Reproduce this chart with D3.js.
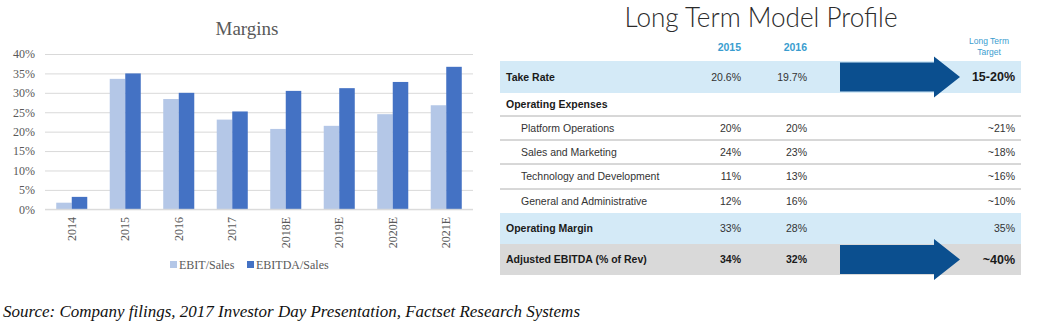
<!DOCTYPE html>
<html>
<head>
<meta charset="utf-8">
<script src="https://cdn.jsdelivr.net/npm/d3@7"></script>
<style>
  body { margin: 0; background: #fff; }
  svg { display: block; }
</style>
</head>
<body>
<svg id="chart" width="1046" height="330"></svg>
<script>
// margins chart data
var years = ["2014", "2015", "2016", "2017", "2018E", "2019E", "2020E", "2021E"];
var seriesNames = ["EBIT/Sales", "EBITDA/Sales"];
var ebitSales = [0.017, 0.336, 0.284, 0.231, 0.207, 0.215, 0.245, 0.268];
var ebitdaSales = [0.032, 0.350, 0.300, 0.252, 0.305, 0.312, 0.328, 0.367];
var yTicks = [0, 0.05, 0.10, 0.15, 0.20, 0.25, 0.30, 0.35, 0.40];

// long term model table data
var colHeads = ["2015", "2016"];
var rowLabels = ["Take Rate", "Operating Expenses", "Platform Operations", "Sales and Marketing",
  "Technology and Development", "General and Administrative", "Operating Margin", "Adjusted EBITDA (% of Rev)"];
var rowKind = ["take", "section", "item", "item", "item", "item", "margin", "ebitda"];
var val2015 = ["20.6%", "", "20%", "24%", "11%", "12%", "33%", "34%"];
var val2016 = ["19.7%", "", "20%", "23%", "13%", "16%", "28%", "32%"];
var target = ["15-20%", "", "~21%", "~18%", "~16%", "~10%", "35%", "~40%"];

var svg = d3.select("#chart");
var serif = "'Liberation Serif', 'Times New Roman', serif";
var sans = "'Liberation Sans', Arial, sans-serif";

// ---------- left: Margins bar chart ----------
var x0 = d3.scaleBand().domain(years).range([45, 473]).paddingInner(0.42).paddingOuter(0.21);
var x1 = d3.scaleBand().domain(seriesNames).range([0, x0.bandwidth()]);
var y = d3.scaleLinear().domain([0, 0.4]).range([209.3, 54]);
var colors = d3.scaleOrdinal().domain(seriesNames).range(["#b4c7e7", "#4472c4"]);

svg.append("text").attr("x", 247).attr("y", 35).attr("text-anchor", "middle")
  .attr("font-family", serif).attr("font-size", 19).attr("fill", "#595959").text("Margins");

var yAxis = svg.append("g").attr("transform", "translate(45,0)")
  .call(d3.axisLeft(y).tickValues(yTicks).tickSize(-428).tickFormat(d3.format(".0%")));
yAxis.select(".domain").remove();
yAxis.selectAll(".tick line").attr("stroke", "#d9d9d9");
yAxis.selectAll(".tick text").attr("x", -10).attr("font-family", serif)
  .attr("font-size", 12).attr("fill", "#595959");

var table = years.map(function(yr, i){
  return {year: yr, values: [ebitSales[i], ebitdaSales[i]]};
});

svg.append("g").selectAll("g")
  .data(table)
  .enter()
  .append("g")
  .attr("transform", function(d){ return "translate(" + x0(d.year) + ",0)"; })
  .selectAll("rect")
  .data(function(d){ return d.values.map(function(v, j){ return {name: seriesNames[j], v: v}; }); })
  .enter()
  .append("rect")
  .attr("x", function(d){ return x1(d.name); })
  .attr("width", x1.bandwidth())
  .attr("y", function(d){ return y(d.v); })
  .attr("height", function(d){ return y(0) - y(d.v); })
  .attr("fill", function(d){ return colors(d.name); });

svg.append("line").attr("x1", 45).attr("x2", 473).attr("y1", y(0)).attr("y2", y(0))
  .attr("stroke", "#d9d9d9");

svg.append("g").selectAll("text")
  .data(years)
  .enter()
  .append("text")
  .attr("transform", function(d){
    return "translate(" + (x0(d) + x0.bandwidth() / 2) + ",217) rotate(-90)";
  })
  .attr("dy", "0.35em")
  .attr("text-anchor", "end")
  .attr("font-family", serif).attr("font-size", 12).attr("fill", "#595959")
  .text(function(d){ return d; });

// legend
var legendX = [170, 247];
var legend = svg.append("g").selectAll("g")
  .data(seriesNames)
  .enter()
  .append("g")
  .attr("transform", function(d, i){ return "translate(" + legendX[i] + ",261)"; });
legend.append("rect").attr("width", 7).attr("height", 7).attr("fill", function(d){ return colors(d); });
legend.append("text").attr("x", 9).attr("y", 8).attr("font-family", serif).attr("font-size", 12)
  .attr("fill", "#595959").text(function(d){ return d; });

// source line
svg.append("text").attr("x", 3).attr("y", 317).attr("font-family", serif)
  .attr("font-style", "italic").attr("font-size", 16.5).attr("fill", "#111")
  .attr("textLength", 577).attr("lengthAdjust", "spacingAndGlyphs")
  .text("Source: Company filings, 2017 Investor Day Presentation, Factset Research Systems");

// ---------- right: Long Term Model Profile table ----------
var tLeft = 500, tRight = 1021;
var rowH = [32, 23, 24, 24, 25, 24, 31, 31];
var rowTop = [];
var acc = 61;
rowH.forEach(function(h){ rowTop.push(acc); acc += h; });
var colRight = [741, 807, 1015];
var bgFill = {take: "#d4eaf7", margin: "#d4eaf7", ebitda: "#d9d9d9"};

svg.append("text").attr("x", 761).attr("y", 27).attr("text-anchor", "middle")
  .attr("font-family", "Lato, 'Open Sans', sans-serif").attr("font-weight", 300)
  .attr("font-size", 27).attr("fill", "#2b2b2b")
  .attr("textLength", 273).attr("lengthAdjust", "spacingAndGlyphs")
  .text("Long Term Model Profile");

svg.append("g").selectAll("text")
  .data(colHeads)
  .enter()
  .append("text")
  .attr("x", function(d, i){ return colRight[i]; })
  .attr("y", 51).attr("text-anchor", "end")
  .attr("font-family", sans).attr("font-weight", "bold").attr("font-size", 10.5)
  .attr("fill", "#3a9dcf").text(function(d){ return d; });

svg.append("g").selectAll("text")
  .data(["Long Term", "Target"])
  .enter()
  .append("text")
  .attr("x", 989).attr("y", function(d, i){ return 44 + i * 11; })
  .attr("text-anchor", "middle")
  .attr("font-family", sans).attr("font-size", 8.5).attr("fill", "#3a9dcf")
  .text(function(d){ return d; });

var rows = svg.append("g").selectAll("g")
  .data(rowLabels)
  .enter()
  .append("g")
  .attr("transform", function(d, i){ return "translate(0," + rowTop[i] + ")"; });

rows.filter(function(d, i){ return bgFill[rowKind[i]]; })
  .append("rect")
  .attr("x", tLeft).attr("width", tRight - tLeft)
  .attr("height", function(d){ return rowH[rowLabels.indexOf(d)]; })
  .attr("fill", function(d){ return bgFill[rowKind[rowLabels.indexOf(d)]]; });

// separator lines under the expense rows
rows.filter(function(d, i){ return i >= 1 && i <= 4; })
  .append("line")
  .attr("x1", tLeft).attr("x2", tRight)
  .attr("y1", function(d){ return rowH[rowLabels.indexOf(d)]; })
  .attr("y2", function(d){ return rowH[rowLabels.indexOf(d)]; })
  .attr("stroke", "#b0b0b0").attr("stroke-width", 1);

rows.append("text")
  .attr("x", function(d, i){ return rowKind[i] === "item" ? 521 : 506; })
  .attr("y", function(d, i){ return rowH[i] / 2; })
  .attr("dy", "0.35em")
  .attr("font-family", sans).attr("font-size", 10.5)
  .attr("font-weight", function(d, i){ return rowKind[i] === "item" ? "normal" : "bold"; })
  .attr("fill", function(d, i){ return rowKind[i] === "item" ? "#333" : "#1a1a1a"; })
  .text(function(d){ return d; });

var cols = [val2015, val2016, target];
cols.forEach(function(col, c){
  rows.append("text")
    .attr("x", colRight[c])
    .attr("y", function(d, i){ return rowH[i] / 2; })
    .attr("dy", "0.35em")
    .attr("text-anchor", "end")
    .attr("font-family", sans)
    .attr("font-size", function(d, i){
      return (c === 2 && (rowKind[i] === "take" || rowKind[i] === "ebitda")) ? 12.5 : 10.5;
    })
    .attr("font-weight", function(d, i){
      return (rowKind[i] === "ebitda" || (c === 2 && rowKind[i] === "take")) ? "bold" : "normal";
    })
    .attr("fill", function(d, i){ return rowKind[i] === "ebitda" || (c === 2 && rowKind[i] === "take") ? "#1a1a1a" : "#333"; })
    .text(function(d, i){ return col[i]; });
});

// big arrows for take rate and EBITDA rows
var arrowRows = [0, 7];
svg.append("g").selectAll("path")
  .data(arrowRows)
  .enter()
  .append("path")
  .attr("d", function(i){
    var cy = rowTop[i] + rowH[i] / 2;
    var sh = 14.5, hh = 20.5;
    return "M840," + (cy - sh) + "L934," + (cy - sh) + "L934," + (cy - hh) +
      "L960," + cy + "L934," + (cy + hh) + "L934," + (cy + sh) + "L840," + (cy + sh) + "Z";
  })
  .attr("fill", "#0b4f8f");
</script>
</body>
</html>
